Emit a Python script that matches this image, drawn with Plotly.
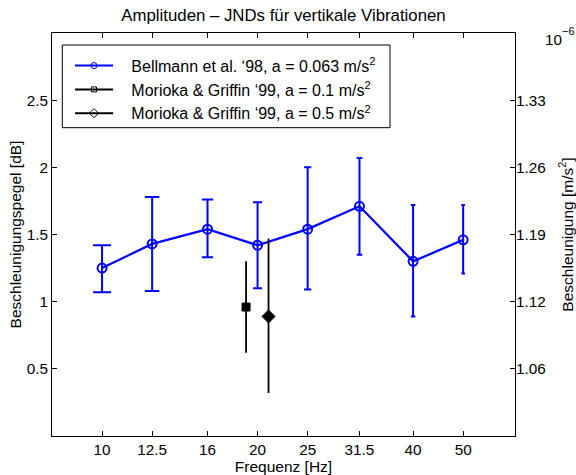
import math
import plotly.graph_objects as go

# ---------------- data ----------------
freq = [10, 12.5, 16, 20, 25, 31.5, 40, 50]
freq_labels = ["10", "12.5", "16", "20", "25", "31.5", "40", "50"]
bell_mean = [1.25, 1.43, 1.54, 1.42, 1.54, 1.71, 1.30, 1.46]
bell_upper = [1.42, 1.78, 1.76, 1.74, 2.00, 2.07, 1.72, 1.72]
bell_lower = [1.07, 1.08, 1.33, 1.10, 1.09, 1.35, 0.89, 1.21]

mor1_freq = [19]
mor1_mean = [0.96]
mor1_upper = [1.30]
mor1_lower = [0.62]

mor2_freq = [21]
mor2_mean = [0.89]
mor2_upper = [1.47]
mor2_lower = [0.32]

y_ticks = [0.5, 1, 1.5, 2, 2.5]
y_ticklabels = ["0.5", "1", "1.5", "2", "2.5"]
# right axis: acceleration = 10^(L/20) * 1e-6 m/s^2
y2_ticklabels = ["%.2f" % (10 ** (v / 20.0)) for v in y_ticks]

names = ["Bellmann et al. \u201898, a = 0.063 m/s<sup>2</sup>",
         "Morioka & Griffin \u201899, a = 0.1 m/s<sup>2</sup>",
         "Morioka & Griffin \u201899, a = 0.5 m/s<sup>2</sup>"]

FONT = "Liberation Sans, Arial, Helvetica, sans-serif"
BLUE = "#0000ff"

# plot-area geometry (pixels)
L, R, T, B = 52, 515, 33, 436
W, H = R - L, B - T
X_RANGE = [math.log10(8), math.log10(63)]
px_per_dec = W / (X_RANGE[1] - X_RANGE[0])
tee = (max(freq) - min(freq)) / 100.0


def px(xp):
    return (xp - L) / float(W)


def py(yp):
    return (B - yp) / float(H)


fig = go.Figure()

# Bellmann error bars (one trace per point so the caps shrink like MATLAB's)
for f, m, u, l in zip(freq, bell_mean, bell_upper, bell_lower):
    cap = px_per_dec * math.log10((f + tee) / (f - tee)) / 2.0
    fig.add_trace(go.Scatter(
        x=[f], y=[m], mode="markers", marker=dict(size=1, opacity=0),
        error_y=dict(type="data", symmetric=False, array=[u - m], arrayminus=[m - l],
                     color=BLUE, thickness=2, width=cap),
        showlegend=False, hoverinfo="skip"))

fig.add_trace(go.Scatter(
    x=freq, y=bell_mean, mode="lines+markers", showlegend=False,
    line=dict(color=BLUE, width=2.2),
    marker=dict(symbol="circle-open", size=9, color=BLUE, line=dict(width=2, color=BLUE))))

# Morioka & Griffin error bars (single point -> no caps)
for fx, m, u, l, sym, sz in ((mor1_freq, mor1_mean, mor1_upper, mor1_lower, "square", 8),
                             (mor2_freq, mor2_mean, mor2_upper, mor2_lower, "diamond", 10)):
    fig.add_trace(go.Scatter(
        x=fx, y=m, mode="markers",
        marker=dict(symbol=sym, size=sz, color="black", line=dict(width=1, color="black")),
        error_y=dict(type="data", symmetric=False,
                     array=[u[0] - m[0]], arrayminus=[m[0] - l[0]],
                     color="black", thickness=1.8, width=0),
        showlegend=False, hoverinfo="skip"))

# legend-only entries (small open markers like MATLAB's legend)
NB = "\u00a0" * 3
for name, col, sym, sz in ((names[0], BLUE, "circle-open", 6),
                           (names[1], "black", "square-open", 5),
                           (names[2], "black", "diamond-open", 7)):
    fig.add_trace(go.Scatter(
        x=[None], y=[None], mode="lines+markers", name=NB + name,
        line=dict(color=col, width=2),
        marker=dict(symbol=sym, size=sz, color=col, line=dict(width=1, color=col))))

# invisible trace so the right axis is drawn
fig.add_trace(go.Scatter(x=[freq[0]] * len(y_ticks), y=y_ticks, yaxis="y2", mode="markers",
                         marker=dict(opacity=0, size=1), showlegend=False, hoverinfo="skip"))

fig.update_layout(
    width=576, height=475, autosize=False,
    margin=dict(l=L, r=576 - R, t=T, b=475 - B, autoexpand=False),
    paper_bgcolor="white", plot_bgcolor="white",
    font=dict(family=FONT, size=15, color="black"),
    title=dict(text="Amplituden \u2013 JNDs f\u00fcr vertikale Vibrationen",
               x=0.5, xref="paper", xanchor="center",
               y=1 - 15 / 475.0, yref="container", yanchor="middle",
               font=dict(family=FONT, size=16.8, color="black")),
    xaxis=dict(type="log", range=X_RANGE, tickvals=freq, ticktext=freq_labels,
               automargin=False,
               ticks="inside", ticklen=5, tickwidth=1, tickcolor="black",
               showline=True, linecolor="black", linewidth=1, mirror="ticks",
               showgrid=False, zeroline=False,
               tickfont=dict(family=FONT, size=15.3, color="black"),
               title=dict(text="Frequenz [Hz]", standoff=2,
                          font=dict(family=FONT, size=15.5, color="black"))),
    yaxis=dict(range=[0, 3], tickvals=y_ticks, ticktext=y_ticklabels,
               automargin=False,
               ticks="inside", ticklen=5, tickwidth=1, tickcolor="black",
               showline=True, linecolor="black", linewidth=1, mirror=True,
               showgrid=False, zeroline=False,
               tickfont=dict(family=FONT, size=15.3, color="black"),
               title=dict(text="Beschleunigungspegel [dB]", standoff=1,
                          font=dict(family=FONT, size=15.5, color="black"))),
    yaxis2=dict(overlaying="y", side="right", range=[0, 3],
                tickvals=y_ticks, ticktext=y2_ticklabels,
                automargin=False,
                ticks="inside", ticklen=5, tickwidth=1, tickcolor="black",
                showline=False, showgrid=False, zeroline=False,
                tickfont=dict(family=FONT, size=15.3, color="black"),
                title=dict(text="Beschleunigung [m/s<sup>2</sup>]", standoff=19,
                           font=dict(family=FONT, size=15.5, color="black"))),
    legend=dict(x=px(70), y=py(48.7),
                xanchor="left", yanchor="top",
                bgcolor="rgba(0,0,0,0)", borderwidth=0,
                font=dict(family=FONT, size=16, color="black"),
                itemwidth=38, tracegroupgap=0),
    shapes=[dict(type="rect", xref="paper", yref="paper",
                 x0=px(62.3), x1=px(390), y0=py(127.7), y1=py(45),
                 line=dict(color="black", width=1), fillcolor="white", layer="below")],
    annotations=[dict(text="10", xref="paper", yref="paper",
                      x=px(543), y=py(39),
                      xanchor="left", yanchor="middle", showarrow=False,
                      font=dict(family=FONT, size=15.3, color="black")),
                 dict(text="\u22126", xref="paper", yref="paper",
                      x=px(560), y=py(31),
                      xanchor="left", yanchor="middle", showarrow=False,
                      font=dict(family=FONT, size=11, color="black"))],
)

fig.write_html("out.html",
               config={"displayModeBar": False},
               post_script="document.body.style.margin='0px';"
                           "document.body.style.overflow='hidden';")
